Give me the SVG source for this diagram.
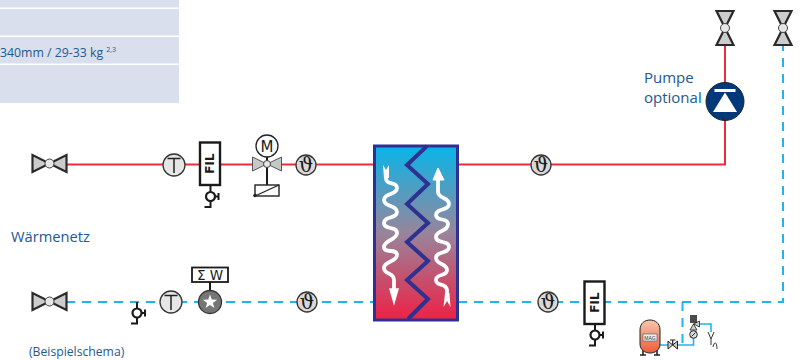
<svg xmlns="http://www.w3.org/2000/svg" width="800" height="360" viewBox="0 0 800 360">
<style>
.t{font-family:"Open Sans","Noto Sans",sans-serif;fill:#23598f}
.red{fill:none;stroke:#ee2a3c;stroke-width:2}
.blue{fill:none;stroke:#1fb5ee;stroke-width:2;stroke-dasharray:9 7}
.bs{fill:none;stroke:#1fb5ee;stroke-width:1.6}
.v{fill:#cbcdcd;stroke:#2a2a2a;stroke-width:2.2;stroke-linejoin:miter}
.c{fill:#e6e6e6;stroke:#333;stroke-width:1.3}
.k{fill:none;stroke:#1a1a1a;stroke-width:2}
.w{fill:none;stroke:#fff;stroke-width:3.8}
.sym{font-family:"DejaVu Sans",sans-serif;fill:#1a1a1a;text-anchor:middle}
.th{font-family:"DejaVu Serif",serif;fill:#1a1a1a;text-anchor:middle;font-size:20px}
</style>
<defs>
<linearGradient id="hx" x1="0" y1="0" x2="0" y2="1">
<stop offset="0" stop-color="#08b5e9"/><stop offset=".5" stop-color="#97859b"/><stop offset="1" stop-color="#ef2145"/>
</linearGradient>
<linearGradient id="mag" x1="0" y1="0" x2="0" y2="1">
<stop offset="0" stop-color="#f6c8b0"/><stop offset="1" stop-color="#ee5a38"/>
</linearGradient>
<g id="valveH"><path class="v" d="M-17-8.500V8.500L0 0ZM17-8.500V8.500L0 0Z"/><circle r="4.500" fill="#e6e6e6" stroke="#444"/></g>
<g id="valveV"><path class="v" d="M-8.500-17H8.500L0 0ZM-8.500 17H8.500L0 0Z"/><circle r="4.500" fill="#e6e6e6" stroke="#444"/></g>
<g id="theta"><circle r="10" fill="#d8d8d8" stroke="#333" stroke-width="1.300"/><text class="th" y="7">ϑ</text></g>
<g id="tt"><circle class="c" r="11"/><path d="M-6.500-6.500H6.500M0-6.500V8" fill="none" stroke="#222" stroke-width="1.500"/></g>
<g id="gauge"><path class="k" d="M0-11V-4M0 4V10.500H-6M8-3.500V3.500M8 0H4"/><circle r="4.500" fill="#fff" stroke="#1a1a1a" stroke-width="2.200"/></g>
<g id="fil"><rect x="-10" y="-21" width="20" height="42.500" fill="#fff" stroke="#1a1a1a" stroke-width="2.400"/><text class="sym" transform="rotate(-90) translate(0 4)" font-size="12" font-weight="700" font-family="Liberation Sans, sans-serif">FIL</text></g>
</defs>

<g id="table">
<rect x="0" y="0" width="179" height="7.500" fill="#d9dfec"/>
<rect x="0" y="9" width="179" height="26.500" fill="#d9dfec"/>
<rect x="0" y="37" width="179" height="26.500" fill="#d9dfec"/>
<rect x="0" y="65" width="179" height="38" fill="#d9dfec"/>
<text class="t" x="0" y="57" font-size="12.300">340mm / 29-33 kg<tspan font-size="7" dx="3" dy="-5">2,3</tspan></text>
</g>

<g id="connectors">
<path class="red" d="M50 164.500H373"/>
<path class="red" d="M458 164.500H725V40"/>
<path class="blue" d="M50 302H373"/>
<path class="blue" d="M458 302H783V40"/>
<path class="blue" d="M682.500 302V345"/>
<path class="bs" d="M660 345H693.500V338M699 324H711V332"/>
</g>

<g id="valve-top-left"><use href="#valveH" x="49.500" y="163.500"/></g>
<g id="valve-bottom-left"><use href="#valveH" x="49.500" y="301.500"/></g>
<g id="valve-top-pump"><use href="#valveV" x="725" y="28"/></g>
<g id="valve-top-right"><use href="#valveV" x="783" y="28"/></g>
<g id="temp-top"><use href="#tt" x="174" y="165"/></g>
<g id="temp-bottom"><use href="#tt" x="171" y="302"/></g>
<g id="filter-top"><use href="#gauge" x="210.500" y="196.500"/><use href="#fil" x="210" y="163.500"/></g>
<g id="filter-bottom"><use href="#gauge" x="595" y="335"/><use href="#fil" x="594.500" y="302.500"/></g>
<g id="gauge-bottom"><use href="#gauge" x="137" y="313"/></g>
<g id="motor-valve">
<path d="M267 157V186" class="k"/>
<circle cx="267" cy="146" r="11" fill="#fff" stroke="#222" stroke-width="1.300"/>
<text class="sym" x="267" y="151.500" font-size="15">M</text>
<path d="M252.500 157V171L267 164ZM281.500 157V171L267 164Z" fill="#c6c8c8" stroke="#555"/>
<circle cx="267" cy="164" r="3.500" fill="#e6e6e6" stroke="#444"/>
<rect x="255" y="185" width="24" height="11" fill="#fff" stroke="#222" stroke-width="1.400"/>
<path d="M255 196L279 185" stroke="#222" stroke-width="1.300"/>
<circle cx="255" cy="195.500" r="1.800" fill="#222"/>
</g>
<g id="theta-1"><use href="#theta" x="306" y="165"/></g>
<g id="theta-2"><use href="#theta" x="541" y="165"/></g>
<g id="theta-3"><use href="#theta" x="307" y="302"/></g>
<g id="theta-4"><use href="#theta" x="548" y="302"/></g>

<g id="heat-exchanger">
<rect x="374.500" y="146" width="83" height="174" fill="url(#hx)" stroke="#2e3192" stroke-width="3"/>
<path d="M427 146L407 165L428 184L407 204L428 223L407 242L428 261L407 280L428 299L408 319" fill="none" stroke="#2e3192" stroke-width="4"/>
<path class="w" d="M386 170V178C386 186 397 181 397 188C397 195 384 193 384 200C384 207 397 205 397 212C397 219 384 216 384 223C384 230 397 226 397 233C397 240 384 240 384 247C384 254 397 248 397 255C397 262 384 261 384 268C384 275 394 272 394 280V292"/>
<path d="M383 165L386 170L389 165V178H384Z" fill="#fff"/>
<path d="M394 303L390 289H398Z" fill="#fff" stroke="#fff" stroke-width="1.500"/>
<path class="w" d="M438 178V192C438 199 449 197 449 204C449 211 436 208 436 215C436 222 448 217 448 224C448 232 436 230 436 237C436 244 449 240 449 247C449 254 436 251 436 258C436 265 447 263 447 270C447 277 436 273 436 280C436 287 446 282 447 290V300"/>
<path d="M438 168L433 180H444Z" fill="#fff" stroke="#fff" stroke-width="1"/>
<path d="M443.500 307L445 293H449.500L450.500 307L447 301Z" fill="#fff"/>
</g>

<g id="pump">
<circle cx="725" cy="101.500" r="19" fill="#00397a" stroke="#222" stroke-width="1"/>
<rect x="714.500" y="89" width="21" height="3" fill="#fff"/>
<path d="M725 92.500L713 112H737Z" fill="#fff"/>
</g>

<g id="heat-meter">
<path class="k" d="M210 282V292"/>
<rect x="192" y="267.500" width="36" height="14.500" fill="#fff" stroke="#1a1a1a" stroke-width="1.800"/>
<text class="sym" x="210" y="279.500" font-size="13.500" font-family="Liberation Sans, sans-serif">Σ W</text>
<circle cx="210" cy="302" r="11.500" fill="#767676" stroke="#333" stroke-width="1.300"/>
<path d="M210 294.500L211.760 299.570L217.130 299.680L212.850 302.930L214.410 308.070L210 305L205.590 308.070L207.150 302.930L202.870 299.680L208.240 299.570Z" fill="#fff"/>
</g>

<g id="expansion-vessel">
<path d="M643 350V355M657 350V355M640 355H646M654 355H660" stroke="#222" stroke-width="1.600" fill="none"/>
<path d="M640 330C640 323 645 320 650 320C655 320 660 323 660 330V344C660 350 655 353 650 353C645 353 640 350 640 344Z" fill="url(#mag)" stroke="#222" stroke-width="1"/>
<rect x="643" y="334" width="14" height="7" fill="#eee" stroke="#555" stroke-width=".6"/>
<text x="650" y="339.800" text-anchor="middle" font-size="5" font-family="Liberation Sans, sans-serif" fill="#333">MAG</text>
</g>
<g id="vessel-valve">
<path d="M668 341V349L672.700 345ZM677.500 341V349L672.700 345Z" fill="#ccc" stroke="#222" stroke-width="1"/>
<path d="M672.700 345V340M670 340H675.500" stroke="#222" stroke-width="1.200" fill="none"/>
</g>
<g id="safety-group">
<circle cx="693.500" cy="334.500" r="3.800" fill="#ddd" stroke="#222" stroke-width="1"/>
<path d="M691.500 336.500L695.500 332.500" stroke="#222"/>
<path d="M690 330H697L693.500 324ZM699.500 321V327L693.500 324Z" fill="#ccc" stroke="#222" stroke-width=".8"/>
<path d="M690 316H697M690 318H697M690 320H697M690 322H697" stroke="#111" stroke-width="1.300"/>
</g>
<g id="funnel">
<path d="M708 332L711 339V345M714 332L711 339M713 347C714 342 716 342 716.500 345C717 347 717 348 717 349" fill="none" stroke="#333" stroke-width="1"/>
</g>

<text class="t" x="11" y="242" font-size="14.700">Wärmenetz</text>
<text class="t" x="29" y="356" font-size="12.200">(Beispielschema)</text>
<text class="t" x="644" y="83" font-size="15">Pumpe</text>
<text class="t" x="644" y="103" font-size="15">optional</text>
</svg>
